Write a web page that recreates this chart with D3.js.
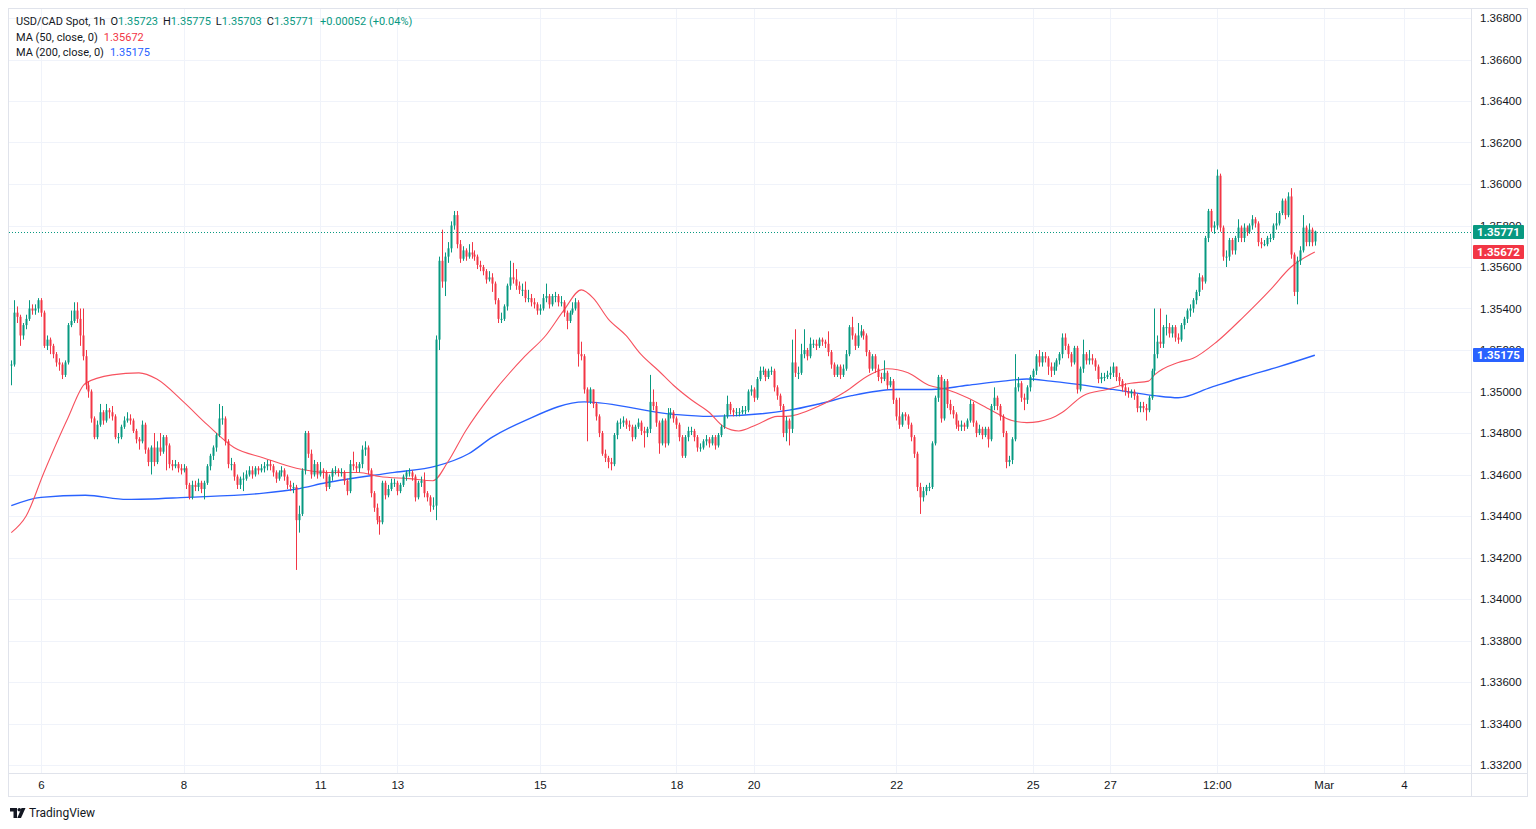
<!DOCTYPE html>
<html>
<head>
<meta charset="utf-8">
<script src="https://cdn.jsdelivr.net/npm/d3@7"></script>
<style>
  html, body { margin: 0; padding: 0; background: #fff; }
  svg { display: block; font-family: Roboto, "Noto Sans", sans-serif; }
</style>
</head>
<body>
<svg id="chart" width="1536" height="829"></svg>
<script>
// USD/CAD Spot, 1h candles, Feb 5 14:00 -> Feb 29 21:00 (UTC)
var firstOpen = 1.3513;
var lastOpen = 1.35723;   // last bar opened a touch above the previous close

var closes = [
  1.3513,1.3538,1.3536,1.3527,1.3532,1.3535,1.3540,1.3539,1.3540,1.3544,
  1.3538,1.3522,1.3525,1.3522,1.3518,1.3514,1.3513,1.3508,1.3514,1.3532,
  1.3534,1.3539,1.3535,1.3527,1.3517,1.3503,1.3500,1.3487,1.3478,1.3484,
  1.3490,1.3486,1.3491,1.3490,1.3488,1.3478,1.3478,1.3483,1.3486,1.3487,
  1.3486,1.3481,1.3477,1.3476,1.3484,1.3472,1.3466,1.3473,1.3466,1.3473,
  1.3471,1.3478,1.3474,1.3465,1.3464,1.3465,1.3463,1.3462,1.3463,1.3455,
  1.3449,1.3455,1.3454,1.3456,1.3453,1.3456,1.3464,1.3469,1.3473,1.3479,
  1.3487,1.3487,1.3476,1.3465,1.3465,1.3459,1.3455,1.3458,1.3458,1.3460,
  1.3462,1.3460,1.3463,1.3462,1.3463,1.3464,1.3465,1.3464,1.3461,1.3458,
  1.3461,1.3462,1.3459,1.3455,1.3454,1.3454,1.3438,1.3441,1.3462,1.3480,
  1.3470,1.3460,1.3465,1.3460,1.3462,1.3461,1.3454,1.3459,1.3462,1.3462,
  1.3461,1.3461,1.3457,1.3452,1.3465,1.3464,1.3463,1.3465,1.3472,1.3473,
  1.3462,1.3451,1.3444,1.3438,1.3437,1.3456,1.3450,1.3453,1.3456,1.3456,
  1.3452,1.3455,1.3459,1.3461,1.3461,1.3459,1.3449,1.3456,1.3457,1.3451,
  1.3449,1.3445,1.3445,1.3525,1.3563,1.3553,1.3565,1.3569,1.3580,1.3585,
  1.3571,1.3564,1.3568,1.3565,1.3567,1.3566,1.3565,1.3561,1.3560,1.3558,
  1.3554,1.3555,1.3552,1.3544,1.3535,1.3535,1.3541,1.3551,1.3555,1.3554,
  1.3551,1.3549,1.3549,1.3545,1.3545,1.3543,1.3542,1.3539,1.3540,1.3545,
  1.3546,1.3542,1.3546,1.3546,1.3543,1.3543,1.3538,1.3534,1.3538,1.3540,
  1.3543,1.3518,1.3517,1.3501,1.3495,1.3501,1.3494,1.3488,1.3480,1.3470,
  1.3468,1.3466,1.3465,1.3479,1.3485,1.3485,1.3486,1.3484,1.3483,1.3478,
  1.3483,1.3485,1.3481,1.3480,1.3482,1.3495,1.3493,1.3485,1.3475,1.3486,
  1.3475,1.3489,1.3490,1.3487,1.3484,1.3478,1.3469,1.3478,1.3481,1.3481,
  1.3478,1.3473,1.3473,1.3476,1.3477,1.3475,1.3478,1.3474,1.3479,1.3483,
  1.3488,1.3494,1.3491,1.3490,1.3490,1.3490,1.3491,1.3491,1.3500,1.3501,
  1.3497,1.3506,1.3510,1.3510,1.3507,1.3510,1.3510,1.3502,1.3498,1.3493,
  1.3480,1.3486,1.3482,1.3514,1.3509,1.3509,1.3518,1.3520,1.3517,1.3523,
  1.3523,1.3522,1.3525,1.3524,1.3523,1.3519,1.3513,1.3508,1.3512,1.3508,
  1.3511,1.3518,1.3531,1.3527,1.3522,1.3527,1.3529,1.3527,1.3519,1.3511,
  1.3517,1.3511,1.3507,1.3506,1.3509,1.3503,1.3505,1.3496,1.3488,1.3484,
  1.3489,1.3488,1.3484,1.3478,1.3470,1.3454,1.3449,1.3452,1.3454,1.3454,
  1.3475,1.3497,1.3507,1.3487,1.3505,1.3494,1.3491,1.3489,1.3484,1.3483,
  1.3484,1.3483,1.3486,1.3494,1.3485,1.3480,1.3482,1.3479,1.3482,1.3477,
  1.3493,1.3497,1.3493,1.3488,1.3480,1.3466,1.3467,1.3477,1.3502,1.3504,
  1.3497,1.3496,1.3502,1.3507,1.3510,1.3517,1.3514,1.3517,1.3516,1.3512,
  1.3510,1.3512,1.3515,1.3518,1.3526,1.3522,1.3518,1.3514,1.3521,1.3501,
  1.3511,1.3518,1.3515,1.3516,1.3515,1.3512,1.3506,1.3507,1.3507,1.3508,
  1.3509,1.3512,1.3507,1.3505,1.3502,1.3500,1.3499,1.3500,1.3498,1.3492,
  1.3493,1.3492,1.3491,1.3497,1.3510,1.3518,1.3524,1.3523,1.3531,1.3531,
  1.3528,1.3531,1.3526,1.3525,1.3532,1.3535,1.3539,1.3540,1.3544,1.3548,
  1.3555,1.3553,1.3574,1.3587,1.3579,1.3580,1.3604,1.3579,1.3565,1.3565,
  1.3573,1.3568,1.3574,1.3579,1.3574,1.3579,1.3577,1.3580,1.3583,1.3581,
  1.3572,1.3571,1.3571,1.3574,1.3574,1.3580,1.3581,1.3586,1.3592,1.3585,
  1.3594,1.3566,1.3548,1.3563,1.3568,1.3579,1.3572,1.3578,1.35719,1.35771
];

var highs = [
  1.3515,1.3544,1.3541,1.3537,1.3533,1.3537,1.3544,1.3542,1.3542,1.3545,
  1.3545,1.3539,1.3527,1.3526,1.3523,1.3519,1.3516,1.3514,1.3515,1.3533,
  1.3539,1.3543,1.3543,1.3540,1.3540,1.3520,1.3505,1.3501,1.3488,1.3486,
  1.3494,1.3491,1.3494,1.3492,1.3493,1.3489,1.3480,1.3484,1.3488,1.3490,
  1.3489,1.3487,1.3482,1.3478,1.3486,1.3485,1.3473,1.3474,1.3480,1.3476,
  1.3480,1.3479,1.3479,1.3475,1.3467,1.3467,1.3466,1.3465,1.3465,1.3464,
  1.3456,1.3457,1.3457,1.3458,1.3457,1.3457,1.3465,1.3470,1.3474,1.3480,
  1.3494,1.3493,1.3488,1.3477,1.3468,1.3466,1.3460,1.3459,1.3461,1.3462,
  1.3464,1.3464,1.3464,1.3464,1.3465,1.3466,1.3467,1.3467,1.3465,1.3462,
  1.3462,1.3464,1.3463,1.3460,1.3457,1.3456,1.3455,1.3445,1.3463,1.3481,
  1.3481,1.3472,1.3467,1.3466,1.3466,1.3463,1.3462,1.3460,1.3463,1.3464,
  1.3463,1.3463,1.3462,1.3458,1.3467,1.3471,1.3466,1.3466,1.3474,1.3476,
  1.3474,1.3463,1.3452,1.3446,1.3440,1.3457,1.3457,1.3455,1.3458,1.3458,
  1.3457,1.3456,1.3460,1.3462,1.3463,1.3462,1.3460,1.3457,1.3459,1.3461,
  1.3452,1.3450,1.3449,1.3527,1.3565,1.3578,1.3567,1.3572,1.3582,1.3587,
  1.3587,1.3573,1.3570,1.3569,1.3571,1.3572,1.3568,1.3566,1.3563,1.3561,
  1.3559,1.3558,1.3557,1.3553,1.3545,1.3538,1.3542,1.3552,1.3563,1.3562,
  1.3559,1.3553,1.3552,1.3553,1.3549,1.3547,1.3545,1.3543,1.3542,1.3547,
  1.3552,1.3547,1.3547,1.3548,1.3547,1.3546,1.3544,1.3539,1.3539,1.3543,
  1.3545,1.3544,1.3524,1.3518,1.3502,1.3502,1.3501,1.3495,1.3489,1.3481,
  1.3472,1.3469,1.3468,1.3480,1.3486,1.3487,1.3488,1.3487,1.3486,1.3484,
  1.3484,1.3487,1.3486,1.3483,1.3483,1.3508,1.3501,1.3495,1.3486,1.3487,
  1.3487,1.3492,1.3492,1.3491,1.3488,1.3485,1.3479,1.3479,1.3483,1.3483,
  1.3482,1.3479,1.3475,1.3477,1.3479,1.3478,1.3479,1.3479,1.3480,1.3484,
  1.3489,1.3498,1.3495,1.3492,1.3492,1.3492,1.3493,1.3493,1.3501,1.3503,
  1.3502,1.3507,1.3512,1.3512,1.3511,1.3511,1.3512,1.3511,1.3503,1.3499,
  1.3494,1.3488,1.3487,1.3525,1.3530,1.3512,1.3523,1.3530,1.3521,1.3526,
  1.3525,1.3525,1.3526,1.3526,1.3525,1.3529,1.3520,1.3514,1.3513,1.3513,
  1.3513,1.3520,1.3532,1.3536,1.3528,1.3533,1.3532,1.3530,1.3528,1.3520,
  1.3518,1.3518,1.3513,1.3509,1.3515,1.3510,1.3507,1.3506,1.3497,1.3497,
  1.3490,1.3490,1.3489,1.3485,1.3479,1.3471,1.3456,1.3454,1.3455,1.3456,
  1.3476,1.3498,1.3508,1.3508,1.3506,1.3506,1.3496,1.3493,1.3490,1.3486,
  1.3486,1.3485,1.3487,1.3496,1.3495,1.3486,1.3484,1.3483,1.3483,1.3483,
  1.3494,1.3502,1.3498,1.3494,1.3489,1.3481,1.3469,1.3478,1.3518,1.3507,
  1.3505,1.3499,1.3503,1.3508,1.3511,1.3518,1.3520,1.3519,1.3519,1.3517,
  1.3514,1.3514,1.3516,1.3519,1.3528,1.3528,1.3523,1.3519,1.3522,1.3522,
  1.3512,1.3525,1.3519,1.3520,1.3518,1.3516,1.3513,1.3509,1.3509,1.3510,
  1.3512,1.3514,1.3512,1.3509,1.3506,1.3504,1.3502,1.3501,1.3501,1.3499,
  1.3495,1.3495,1.3494,1.3498,1.3511,1.3540,1.3527,1.3540,1.3532,1.3537,
  1.3533,1.3532,1.3532,1.3528,1.3533,1.3536,1.3540,1.3542,1.3545,1.3549,
  1.3557,1.3556,1.3575,1.3588,1.3588,1.3582,1.3607,1.3605,1.3580,1.3568,
  1.3574,1.3574,1.3575,1.3583,1.3580,1.3581,1.3580,1.3581,1.3585,1.3584,
  1.3582,1.3574,1.3573,1.3575,1.3576,1.3581,1.3586,1.3587,1.3593,1.3593,
  1.3596,1.3598,1.3567,1.3565,1.3570,1.3585,1.3580,1.3581,1.3579,1.35775
];

var lows = [
  1.3503,1.3512,1.3533,1.3522,1.3525,1.3530,1.3534,1.3537,1.3537,1.3538,
  1.3536,1.3521,1.3520,1.3518,1.3516,1.3512,1.3510,1.3506,1.3507,1.3513,
  1.3531,1.3533,1.3533,1.3522,1.3515,1.3501,1.3497,1.3485,1.3477,1.3477,
  1.3483,1.3484,1.3485,1.3487,1.3486,1.3477,1.3475,1.3477,1.3482,1.3485,
  1.3484,1.3480,1.3475,1.3472,1.3475,1.3470,1.3464,1.3460,1.3464,1.3465,
  1.3469,1.3470,1.3462,1.3463,1.3462,1.3463,1.3461,1.3460,1.3461,1.3453,
  1.3448,1.3448,1.3452,1.3452,1.3451,1.3448,1.3455,1.3462,1.3467,1.3471,
  1.3478,1.3484,1.3474,1.3463,1.3462,1.3457,1.3453,1.3453,1.3452,1.3457,
  1.3459,1.3458,1.3459,1.3460,1.3461,1.3461,1.3462,1.3462,1.3459,1.3456,
  1.3457,1.3459,1.3457,1.3453,1.3452,1.3451,1.3414,1.3432,1.3440,1.3460,
  1.3468,1.3458,1.3459,1.3458,1.3459,1.3458,1.3452,1.3453,1.3457,1.3460,
  1.3459,1.3459,1.3455,1.3450,1.3451,1.3462,1.3461,1.3461,1.3463,1.3469,
  1.3460,1.3449,1.3442,1.3436,1.3431,1.3436,1.3448,1.3449,1.3452,1.3454,
  1.3450,1.3451,1.3454,1.3457,1.3459,1.3457,1.3447,1.3448,1.3454,1.3449,
  1.3447,1.3442,1.3443,1.3438,1.3520,1.3550,1.3546,1.3562,1.3567,1.3578,
  1.3569,1.3562,1.3563,1.3563,1.3564,1.3564,1.3563,1.3559,1.3558,1.3556,
  1.3552,1.3553,1.3548,1.3542,1.3533,1.3533,1.3534,1.3539,1.3549,1.3552,
  1.3549,1.3547,1.3546,1.3543,1.3543,1.3541,1.3540,1.3537,1.3537,1.3539,
  1.3543,1.3540,1.3541,1.3543,1.3541,1.3541,1.3536,1.3530,1.3533,1.3537,
  1.3539,1.3512,1.3515,1.3499,1.3476,1.3494,1.3492,1.3486,1.3478,1.3469,
  1.3466,1.3463,1.3462,1.3464,1.3477,1.3482,1.3483,1.3482,1.3481,1.3476,
  1.3477,1.3482,1.3479,1.3473,1.3478,1.3480,1.3491,1.3483,1.3470,1.3474,
  1.3473,1.3474,1.3487,1.3485,1.3482,1.3476,1.3468,1.3468,1.3476,1.3479,
  1.3476,1.3471,1.3471,1.3472,1.3474,1.3473,1.3474,1.3472,1.3473,1.3478,
  1.3482,1.3487,1.3489,1.3488,1.3488,1.3488,1.3489,1.3489,1.3490,1.3498,
  1.3495,1.3496,1.3505,1.3508,1.3505,1.3506,1.3508,1.3500,1.3496,1.3491,
  1.3478,1.3476,1.3474,1.3480,1.3507,1.3506,1.3508,1.3516,1.3515,1.3516,
  1.3521,1.3520,1.3521,1.3522,1.3521,1.3517,1.3511,1.3507,1.3507,1.3506,
  1.3507,1.3510,1.3517,1.3525,1.3520,1.3521,1.3526,1.3525,1.3517,1.3509,
  1.3510,1.3509,1.3505,1.3504,1.3505,1.3501,1.3502,1.3494,1.3486,1.3482,
  1.3483,1.3486,1.3482,1.3476,1.3468,1.3452,1.3441,1.3447,1.3450,1.3452,
  1.3453,1.3474,1.3495,1.3485,1.3486,1.3492,1.3489,1.3487,1.3482,1.3481,
  1.3481,1.3481,1.3482,1.3485,1.3483,1.3478,1.3479,1.3477,1.3478,1.3473,
  1.3476,1.3491,1.3491,1.3486,1.3478,1.3463,1.3464,1.3465,1.3476,1.3500,
  1.3495,1.3491,1.3494,1.3500,1.3505,1.3508,1.3512,1.3512,1.3514,1.3508,
  1.3507,1.3508,1.3510,1.3513,1.3516,1.3520,1.3516,1.3512,1.3513,1.3499,
  1.3500,1.3509,1.3513,1.3513,1.3513,1.3510,1.3504,1.3504,1.3505,1.3506,
  1.3506,1.3507,1.3505,1.3503,1.3500,1.3498,1.3497,1.3497,1.3496,1.3490,
  1.3490,1.3490,1.3486,1.3490,1.3496,1.3508,1.3516,1.3521,1.3521,1.3527,
  1.3526,1.3526,1.3524,1.3523,1.3524,1.3530,1.3533,1.3536,1.3538,1.3542,
  1.3546,1.3549,1.3552,1.3572,1.3577,1.3576,1.3578,1.3577,1.3563,1.3560,
  1.3563,1.3566,1.3566,1.3572,1.3572,1.3572,1.3575,1.3576,1.3578,1.3579,
  1.3570,1.3569,1.3570,1.3570,1.3572,1.3573,1.3578,1.3580,1.3585,1.3583,
  1.3584,1.3564,1.3546,1.3542,1.3561,1.3567,1.3570,1.3570,1.3570,1.35703
];

// moving averages (candle index, value)
var ma50Idx = [0, 5, 11, 19, 25, 34, 43, 49, 58, 66, 75, 85, 96, 106, 117, 124, 134, 142, 147, 153, 162,
  173, 180, 186, 192, 196, 201, 207, 212, 218, 223, 229, 235, 240, 245, 251, 258, 261, 272, 281, 289,
  295, 302, 309, 315, 322, 330, 337, 342, 350, 354, 361, 369, 377, 383, 385, 393, 398, 406, 415, 424, 431, 439];
var ma50Val = [1.3432, 1.3440, 1.3461, 1.3487, 1.3504, 1.3508, 1.3509, 1.3506, 1.3495, 1.3484, 1.3473, 1.3468,
  1.3463, 1.3461, 1.3461, 1.3459, 1.3458, 1.3457, 1.3466, 1.3481, 1.3499,
  1.3517, 1.3527, 1.3539, 1.3549, 1.3545, 1.3535, 1.3527, 1.3518, 1.3510, 1.3503, 1.3496, 1.3490, 1.3483,
  1.3481, 1.3484, 1.3488, 1.3488, 1.3493, 1.3500, 1.3508,
  1.3511, 1.3509, 1.3503, 1.3501, 1.3497, 1.3491, 1.3486, 1.3485, 1.3487, 1.3490, 1.3498, 1.3501, 1.3504,
  1.3505, 1.3508, 1.3514, 1.3516, 1.3524, 1.3536, 1.3549, 1.3560, 1.35672];

var ma200Idx = [0, 10, 25, 39, 59, 85, 96, 106, 129, 143, 154, 162, 173, 193, 223, 235, 262, 272, 283,
  298, 310, 322, 334, 342, 350, 371, 385, 393, 404, 415, 427, 439];
var ma200Val = [1.3445, 1.3449, 1.3450, 1.3448, 1.3449, 1.3451, 1.3453, 1.3456, 1.3461, 1.3464, 1.3470,
  1.3478, 1.3486, 1.3495, 1.3489, 1.3488, 1.3491, 1.3494, 1.3498,
  1.3501, 1.3501, 1.3503, 1.3505, 1.3506, 1.3505, 1.3501, 1.3498, 1.3497, 1.3502, 1.3507, 1.3512, 1.35175];

// price axis ticks
var priceTicks = [1.332, 1.334, 1.336, 1.338, 1.340, 1.342, 1.344, 1.346, 1.348, 1.350,
  1.352, 1.354, 1.356, 1.358, 1.360, 1.362, 1.364, 1.366, 1.368];

// time axis ticks (candle index) and their labels
var timeTickIdx = [10, 58, 104, 130, 178, 224, 250, 298, 344, 370, 406, 442, 469];
var timeTickLabels = ["6", "8", "11", "13", "15", "18", "20", "22", "25", "27", "12:00", "Mar", "4"];

var upColor = "#089981",
    downColor = "#f23645",
    ma50Color = "#f7525f",
    ma200Color = "#2962ff",
    gridColor = "#f0f3fa",
    borderColor = "#e0e3eb",
    textColor = "#131722";

var plot = {left: 9, top: 9, right: 1471, bottom: 773};

var svg = d3.select("#chart");

var x = d3.scaleLinear()
    .domain([-0.77, 491.6])
    .range([plot.left, plot.right]);

var y = d3.scaleLinear()
    .domain([1.332, 1.368])
    .range([765, 18]);

var candles = closes.map(function(c, i) {
    var o = i === 0 ? firstOpen : (i === closes.length - 1 ? lastOpen : closes[i - 1]);
    return {
        i: i,
        o: o,
        c: c,
        h: Math.max(highs[i], o, c),
        l: Math.min(lows[i], o, c)
    };
});

svg.append("defs").append("clipPath")
    .attr("id", "plotClip")
  .append("rect")
    .attr("x", plot.left)
    .attr("y", plot.top)
    .attr("width", plot.right - plot.left)
    .attr("height", plot.bottom - plot.top);

// grid
var grid = svg.append("g").attr("class", "grid");

grid.selectAll("line.h")
    .data(priceTicks)
  .enter().append("line")
    .attr("class", "h")
    .attr("x1", plot.left)
    .attr("x2", plot.right)
    .attr("y1", function(d) { return Math.round(y(d)) + 0.5; })
    .attr("y2", function(d) { return Math.round(y(d)) + 0.5; })
    .style("stroke", gridColor);

grid.selectAll("line.v")
    .data(timeTickIdx)
  .enter().append("line")
    .attr("class", "v")
    .attr("y1", plot.top)
    .attr("y2", plot.bottom)
    .attr("x1", function(d) { return Math.round(x(d)) + 0.5; })
    .attr("x2", function(d) { return Math.round(x(d)) + 0.5; })
    .style("stroke", gridColor);

var plotG = svg.append("g").attr("clip-path", "url(#plotClip)");

// moving averages
var maLine = d3.line()
    .x(function(d) { return x(d[0]); })
    .y(function(d) { return y(d[1]); })
    .curve(d3.curveMonotoneX);

plotG.append("path")
    .datum(d3.zip(ma200Idx, ma200Val))
    .attr("d", maLine)
    .style("fill", "none")
    .style("stroke", ma200Color)
    .style("stroke-width", 1.4);

plotG.append("path")
    .datum(d3.zip(ma50Idx, ma50Val))
    .attr("d", maLine)
    .style("fill", "none")
    .style("stroke", ma50Color)
    .style("stroke-width", 1.1);

// candles
var candle = plotG.selectAll("g.candle")
    .data(candles)
  .enter().append("g")
    .attr("class", "candle")
    .style("fill", function(d) { return d.c >= d.o ? upColor : downColor; })
    .style("stroke", function(d) { return d.c >= d.o ? upColor : downColor; });

candle.append("line")
    .attr("x1", function(d) { return Math.round(x(d.i)) + 0.5; })
    .attr("x2", function(d) { return Math.round(x(d.i)) + 0.5; })
    .attr("y1", function(d) { return y(d.h); })
    .attr("y2", function(d) { return y(d.l); })
    .style("stroke-width", 1);

candle.append("rect")
    .attr("x", function(d) { return Math.round(x(d.i)) - 0.5; })
    .attr("width", 2)
    .attr("y", function(d) { return y(Math.max(d.o, d.c)); })
    .attr("height", function(d) { return Math.max(1, Math.abs(y(d.o) - y(d.c))); })
    .style("stroke", "none");

// last price dotted line
var last = candles[candles.length - 1];
plotG.append("line")
    .attr("x1", plot.left)
    .attr("x2", plot.right)
    .attr("y1", Math.round(y(last.c)) + 0.5)
    .attr("y2", Math.round(y(last.c)) + 0.5)
    .style("stroke", upColor)
    .style("stroke-width", 1)
    .style("stroke-dasharray", "1,2");

// frame
svg.append("rect")
    .attr("x", plot.left - 0.5)
    .attr("y", plot.top - 0.5)
    .attr("width", 1528 - plot.left)
    .attr("height", 797 - plot.top)
    .style("fill", "none")
    .style("stroke", borderColor);

svg.append("line")
    .attr("x1", plot.right + 0.5).attr("x2", plot.right + 0.5)
    .attr("y1", plot.top).attr("y2", 797)
    .style("stroke", borderColor);

svg.append("line")
    .attr("x1", plot.left).attr("x2", 1528)
    .attr("y1", plot.bottom + 0.5).attr("y2", plot.bottom + 0.5)
    .style("stroke", borderColor);

// price axis
var yAxis = d3.axisRight(y)
    .tickValues(priceTicks)
    .tickSize(0)
    .tickPadding(0)
    .tickFormat(d3.format(".5f"));

var yAxisG = svg.append("g")
    .attr("transform", "translate(1480,0)")
    .call(yAxis);
yAxisG.select(".domain").remove();
yAxisG.selectAll("text")
    .style("font-size", "11.5px")
    .style("fill", textColor);

// time axis
var xAxis = d3.axisBottom(x)
    .tickValues(timeTickIdx)
    .tickSize(0)
    .tickPadding(0)
    .tickFormat(function(d, i) { return timeTickLabels[i]; });

var xAxisG = svg.append("g")
    .attr("transform", "translate(0,781)")
    .call(xAxis);
xAxisG.select(".domain").remove();
xAxisG.selectAll("text")
    .style("font-size", "11.5px")
    .style("fill", textColor);

// price labels on the axis
var tags = [
    {v: last.c, color: upColor},
    {v: ma50Val[ma50Val.length - 1], color: downColor},
    {v: ma200Val[ma200Val.length - 1], color: ma200Color}
];

var tag = svg.selectAll("g.tag")
    .data(tags)
  .enter().append("g")
    .attr("class", "tag")
    .attr("transform", function(d) { return "translate(1473," + Math.round(y(d.v)) + ")"; });

tag.append("rect")
    .attr("x", 0)
    .attr("y", -7)
    .attr("width", 51)
    .attr("height", 14)
    .attr("rx", 1)
    .style("fill", function(d) { return d.color; });

tag.append("text")
    .attr("x", 25.5)
    .attr("y", 4)
    .attr("text-anchor", "middle")
    .style("font-size", "11.5px")
    .style("font-weight", "bold")
    .style("fill", "#fff")
    .text(function(d) { return d3.format(".5f")(d.v); });

// legend
var legend = svg.append("g")
    .style("font-size", "11px");

var prevClose = closes[closes.length - 2];
var l1 = legend.append("text").attr("x", 16).attr("y", 25);
l1.append("tspan").style("fill", textColor).text("USD/CAD Spot, 1h");
[["O", last.o], ["H", last.h], ["L", last.l], ["C", last.c]].forEach(function(p) {
    l1.append("tspan").attr("dx", 5).style("fill", textColor).text(p[0]);
    l1.append("tspan").style("fill", upColor).text(d3.format(".5f")(p[1]));
});
var chg = last.c - prevClose;
l1.append("tspan").attr("dx", 6).style("fill", upColor)
    .text("+" + d3.format(".5f")(chg) + " (+" + d3.format(".2f")(chg / prevClose * 100) + "%)");

var l2 = legend.append("text").attr("x", 16).attr("y", 41);
l2.append("tspan").style("fill", textColor).text("MA (50, close, 0)");
l2.append("tspan").attr("dx", 6).style("fill", downColor).text(d3.format(".5f")(ma50Val[ma50Val.length - 1]));

var l3 = legend.append("text").attr("x", 16).attr("y", 56);
l3.append("tspan").style("fill", textColor).text("MA (200, close, 0)");
l3.append("tspan").attr("dx", 6).style("fill", ma200Color).text(d3.format(".5f")(ma200Val[ma200Val.length - 1]));

// TradingView mark
var logo = svg.append("g").attr("transform", "translate(10,808)").style("fill", textColor);
logo.append("path").attr("d", "M0,0 H7 V10 H3.5 V3.5 H0 Z");
logo.append("circle").attr("cx", 9.3).attr("cy", 1.8).attr("r", 1.8);
logo.append("path").attr("d", "M11.5,0 H15.5 L11,10 H7.3 Z");
svg.append("text")
    .attr("x", 29)
    .attr("y", 817)
    .style("font-size", "12px")
    .style("fill", textColor)
    .text("TradingView");
</script>
</body>
</html>
